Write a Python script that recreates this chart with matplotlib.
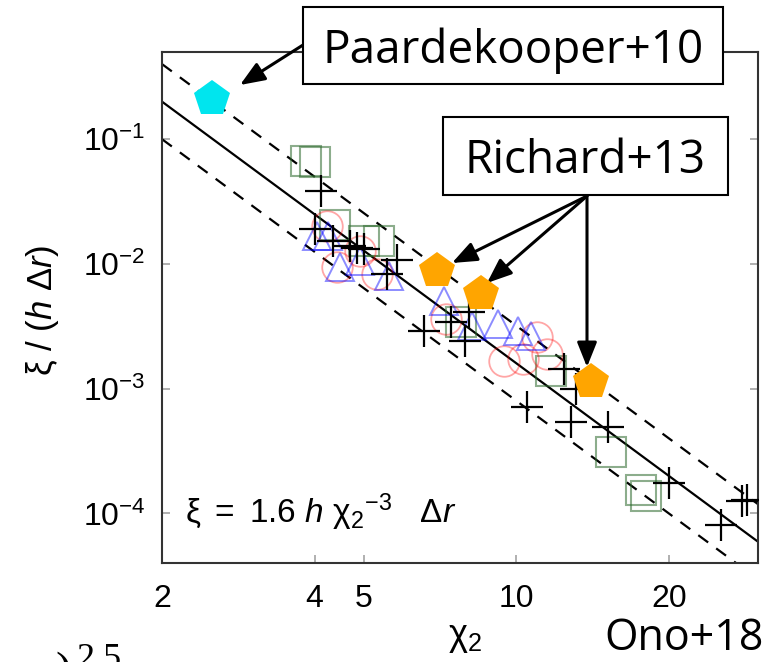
import numpy as np
import matplotlib
matplotlib.use("Agg")
import matplotlib.pyplot as plt
from matplotlib.patches import Rectangle
from matplotlib.ticker import FixedLocator, NullLocator, LogFormatterMathtext

plt.rcParams['font.family'] = ['Liberation Sans', 'DejaVu Sans']
plt.rcParams['mathtext.fontset'] = 'custom'
plt.rcParams['mathtext.rm'] = 'Liberation Sans'
plt.rcParams['mathtext.it'] = 'Liberation Sans:italic'
plt.rcParams['mathtext.bf'] = 'Liberation Sans:bold'

W, H = 764, 662

# Ono+18 simulation results (chi_2, xi / (h dr))
sq_x = [3.85, 4.00, 4.38, 5.00, 5.35, 7.79, 11.7, 15.4, 17.6, 18.0]
sq_y = [0.0667, 0.0655, 0.0205, 0.0153, 0.0152, 0.00344, 0.00139, 3.13e-4, 1.53e-4, 1.39e-4]

plus_x = [4.11, 4.00, 4.34, 4.69, 4.84, 5.00, 5.83, 5.55, 6.59, 7.45, 7.91, 8.08,
          12.4, 13.1, 10.5, 12.8, 15.2, 20.0, 25.4, 27.9, 28.5]
plus_y = [0.0384, 0.0191, 0.0153, 0.0139, 0.0134, 0.0132, 0.0108, 0.00832, 0.00291,
          0.00344, 0.00242, 0.00413, 0.00145, 0.00100, 7.18e-4, 5.45e-4, 4.97e-4,
          1.74e-4, 8.0e-5, 1.25e-4, 1.27e-4]

circ_x = [4.23, 4.43, 4.91, 5.32, 7.28, 9.47, 10.3, 11.0, 11.5]
circ_y = [0.0201, 0.00946, 0.0127, 0.00832, 0.00363, 0.00168, 0.00174, 0.00261, 0.00191]

tri_x = [4.04, 4.25, 4.49, 4.91, 5.62, 7.21, 8.19, 9.22, 10.1, 10.7]
tri_y = [0.0168, 0.0168, 0.00946, 0.0106, 0.00802, 0.00506, 0.00319, 0.00331, 0.00291, 0.00265]

# observations
paar_x = [2.51]
paar_y = [0.209]
rich_x = [6.99, 8.53, 14.05]
rich_y = [0.00879, 0.00575, 0.00114]

# fit xi = 1.6 h chi^-3 dr, with factor-2 band
fit_coef = 1.6
band = [2.0, 0.5]
xlim = (2, 30)
ylim = (4e-5, 0.5)
xticks = [2, 4, 5, 10, 20]
yticks = [1e-4, 1e-3, 1e-2, 1e-1]


def fig_frac(x, y):
    return (x / W, 1 - y / H)


fig = plt.figure(figsize=(W / 100, H / 100), dpi=100)
ax = fig.add_axes([162 / W, 1 - 563 / H, (758 - 162) / W, (563 - 52) / H])
ax.set_xscale('log')
ax.set_yscale('log')
ax.set_xlim(*xlim)
ax.set_ylim(*ylim)

chi = np.geomspace(xlim[0], xlim[1], 100)
ax.plot(chi, fit_coef * chi ** -3, color='black', lw=1.6, zorder=2)
for b in band:
    ax.plot(chi, b * fit_coef * chi ** -3, color='black', lw=1.6,
            dashes=(5.5, 4.5), zorder=2)

ax.plot(sq_x, sq_y, 's', ms=21, mfc='none', mec=(0.18, 0.42, 0.18, 0.55), mew=1.5, zorder=3)
ax.plot(circ_x, circ_y, 'o', ms=22, mfc='none', mec=(1, 0, 0, 0.35), mew=1.3, zorder=3)
ax.plot(tri_x, tri_y, '^', ms=20, mfc='none', mec=(0, 0, 1, 0.45), mew=1.4, zorder=3)
ax.plot(plus_x, plus_y, '+', ms=23, color='black', mew=1.6, zorder=3)
ax.plot(paar_x, paar_y, 'p', ms=27, color='#00e5ee', mew=0, zorder=4)
ax.plot(rich_x, rich_y, 'p', ms=27, color='#ffa500', mew=0, zorder=4)

ax.xaxis.set_major_locator(FixedLocator(xticks))
ax.xaxis.set_major_formatter(plt.FuncFormatter(lambda v, p: f'{v:g}'))
ax.xaxis.set_minor_locator(NullLocator())
ax.yaxis.set_major_locator(FixedLocator(yticks))
ax.yaxis.set_major_formatter(LogFormatterMathtext())
ax.yaxis.set_minor_locator(NullLocator())
ax.tick_params(which='both', direction='in', top=True, right=True,
               length=6, width=1.3, color='#aaaaaa', labelsize=23)
ax.tick_params(axis='x', pad=15)
ax.tick_params(axis='y', pad=12)
for s in ax.spines.values():
    s.set_color('#333333')
    s.set_linewidth(1.5)

ax.set_ylabel('ξ / ($h$ Δ$r$)', fontsize=25)
ax.yaxis.set_label_coords(-0.2, 0.495)
ax.yaxis.label.set_va('center')
ax.set_xlabel(r'$\mathrm{\chi}_2$', fontsize=26)
ax.xaxis.set_label_coords(0.508, -0.145)
ax.xaxis.label.set_va('center')

ax.text(0.038, 0.10,
        r'$\mathrm{\xi}\ =\ 1.6\ h\ \mathrm{\chi}_2{}^{-3}\quad\mathrm{\Delta}r$',
        transform=ax.transAxes, fontsize=24, ha='left', va='center')

# annotation boxes
box_font = ['Open Sans', 'DejaVu Sans']
for (x0, y0, x1, y1), label, base in [((303, 7, 723, 84), 'Paardekooper+10', 63),
                                       ((443, 117, 728, 195), 'Richard+13', 173)]:
    fig.add_artist(Rectangle(fig_frac(x0, y1), (x1 - x0) / W, (y1 - y0) / H,
                             transform=fig.transFigure, facecolor='white',
                             edgecolor='black', lw=1.5, zorder=5))
    fig.text(*fig_frac((x0 + x1) / 2, base), label, family=box_font, fontsize=33,
             ha='center', va='baseline', zorder=6)

fig.text(*fig_frac(684, 650), 'Ono+18', family=box_font, fontsize=31,
         ha='center', va='baseline')
fig.text(*fig_frac(76, 643), '2.5', family=['Liberation Serif'], fontsize=26,
         ha='left', va='top')
fig.text(*fig_frac(55, 652), ')', family=['Liberation Serif'], fontsize=34,
         ha='left', va='top')

arrow = dict(arrowstyle='-|>,head_length=0.75,head_width=0.3', mutation_scale=20,
             lw=2.2, color='black', shrinkA=0, shrinkB=0)
ax.annotate('', xy=(240, H - 85), xycoords='figure pixels',
            xytext=(303, H - 45), textcoords='figure pixels', arrowprops=arrow)
for tx, ty in [(452, 263), (487, 283), (587, 367)]:
    ax.annotate('', xy=(tx, H - ty), xycoords='figure pixels',
                xytext=(587, H - 196), textcoords='figure pixels', arrowprops=arrow)

fig.savefig('out.png', dpi=100)
